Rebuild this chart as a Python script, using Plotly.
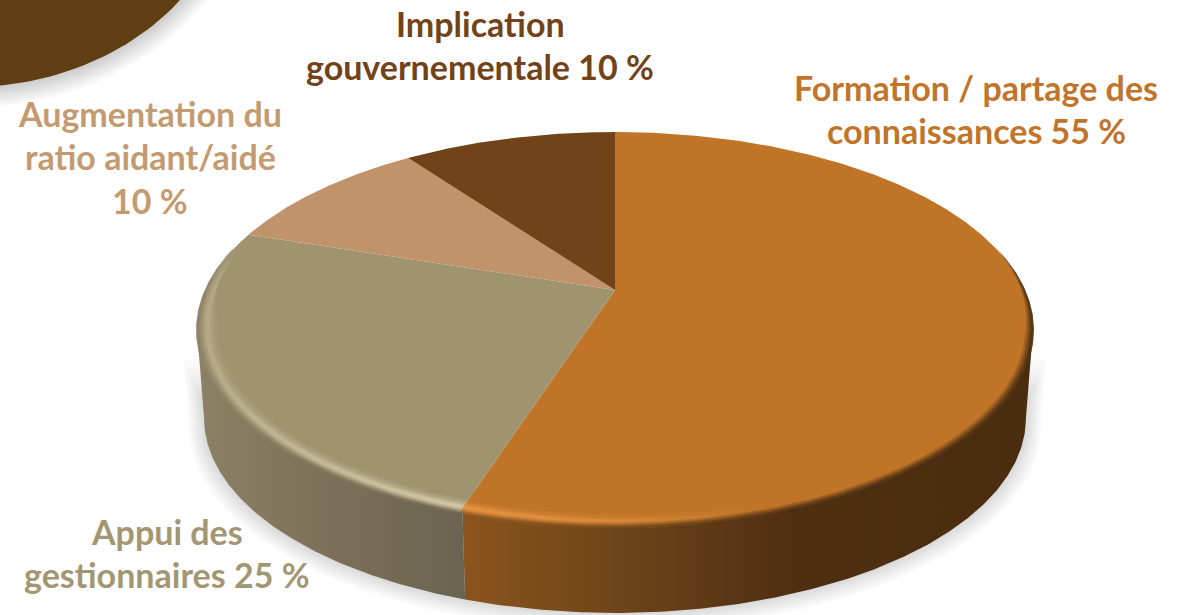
import numpy as np
import plotly.graph_objects as go

# Survey shares, listed clockwise from twelve o'clock
categories = ["Formation / partage des connaissances", "Appui des gestionnaires",
              "Augmentation du ratio aidant/aidé", "Implication gouvernementale"]
values = [55, 25, 10, 10]
top_colors = ["#BF7428", "#A09370", "#C0936B", "#724318"]
text_colors = ["#C0752A", "#A39773", "#C49B70", "#724318"]
label_lines = [
    ["Formation / partage des", "connaissances {v} %"],
    ["Appui des", "gestionnaires {v} %"],
    ["Augmentation du", "ratio aidant/aidé", "{v} %"],
    ["Implication", "gouvernementale {v} %"],
]
label_x = [976, 167, 150, 480]
label_y = [[87, 130], [531, 574], [113, 156, 200], [23, 66]]
orange_wall = [(0, "#8B541E"), (0.28, "#6E4418"), (0.58, "#4E2F11"), (1, "#4A2C0F")]
gray_wall = [(0, "#8C8165"), (0.55, "#7A6F56"), (1, "#6A6350")]

W, H = 1189, 615
CX, CY = 615, 290        # where the disc centre lands on the page
A, B, K = 409.4, 189.9, 0.2019   # perspective projection of the unit disc
DEPTH, TAPER = 89, 0.983  # thickness of the disc and shrink of its lower face


def project(theta, r=1.0, lower=False):
    """Angle in degrees clockwise from the top, radius r, upper or lower face."""
    t = np.radians(theta)
    X, Y = r * np.sin(t), r * np.cos(t)
    d = 1 + K * Y
    s = TAPER if lower else 1.0
    x = CX + A * X / d * s
    y = CY + (DEPTH if lower else 0) - B * Y / d * s
    return x, y


def angles(t0, t1):
    return np.linspace(t0, t1, max(2, int(abs(t1 - t0)) * 2 + 1))


def arc(t0, t1, r=1.0, lower=False):
    return project(angles(t0, t1), r, lower)


def poly(x, y, **kw):
    return go.Scatter(x=np.round(x, 2), y=np.round(y, 2), mode="lines", fill="toself",
                      line=dict(width=0), hoverinfo="skip", showlegend=False, **kw)


def rgba(color, alpha):
    r, g, b = (int(color[i:i + 2], 16) for i in (1, 3, 5))
    return f"rgba({r},{g},{b},{alpha:.3f})"


def band(t0, t1, r0, r1, stops, alpha=1.0, taper_from=None, taper_span=28):
    """Ring segment on the top face, shaded left to right; it can narrow to nothing at one end."""
    t = angles(t0, t1)
    inner = np.full_like(t, r1, dtype=float)
    if taper_from is not None:
        f = np.clip(np.abs(t - taper_from) / taper_span, 0, 1)
        inner = r0 + (r1 - r0) * f
    x0, y0 = project(t, r0)
    x1, y1 = project(t[::-1], inner[::-1])
    scale = [[p, rgba(c, alpha * f)] for p, c, f in stops]
    return poly(np.r_[x0, x1], np.r_[y0, y1], fillcolor="rgba(0,0,0,0)",
                fillgradient=dict(type="horizontal", colorscale=scale))


def wall(t0, t1, stops):
    xa, ya = arc(t0, t1)
    xb, yb = arc(t1, t0, lower=True)
    return poly(np.r_[xa, xb], np.r_[ya, yb], fillcolor="rgba(0,0,0,0)",
                fillgradient=dict(type="horizontal", colorscale=[list(s) for s in stops]))


fig = go.Figure()

# Decorative disc in the upper-left corner, with its soft shadow
phi = np.linspace(0, 2 * np.pi, 240)
for i in range(8, 0, -1):
    fig.add_trace(poly(-30 + (267 + i * 2.6) * np.cos(phi), -140 + (227 + i * 2.6) * np.sin(phi),
                       fillcolor="rgba(0,0,0,0.022)"))
fig.add_trace(poly(-30 + 267 * np.cos(phi), -140 + 227 * np.sin(phi), fillcolor="#5F3E14"))

# Angles where the silhouette of the disc runs straight down
tangent_r = np.degrees(np.arccos(-K))
tangent_l = 360 - tangent_r

cum = np.cumsum([0] + values) * 3.6
tip = cum[1]
seam = tip - 0.5     # the wall seam sits just inside the wedge boundary of the top face

# Cast shadow under the pie, following the same silhouette
for i in range(9, 0, -1):
    xa, ya = arc(tangent_r, tangent_l, 1 + i * 0.004)
    xb, yb = arc(tangent_l, tangent_r, 1 + i * 0.004, lower=True)
    fig.add_trace(poly(np.r_[xa, xb], np.r_[ya, yb + i * 0.7], fillcolor="rgba(0,0,0,0.017)"))

# Side wall
fig.add_trace(wall(tangent_r, seam, orange_wall))
fig.add_trace(wall(seam, tangent_l, gray_wall))

# Top face: one wedge per category
for v0, v1, color in zip(cum[:-1], cum[1:], top_colors):
    x, y = arc(v0, v1)
    fig.add_trace(poly(np.r_[CX, x], np.r_[CY, y], fillcolor=color))

# The outer edge of the top face rolls over into the wall
orange_edge = [(p, c, 1) for p, c in orange_wall]
gray_edge = [(p, c, 1) for p, c in gray_wall]
for r_in, alpha in [(0.982, 0.3), (0.988, 0.45), (0.994, 0.7)]:
    fig.add_trace(band(76, seam, 1.002, r_in, orange_edge, alpha, taper_from=76))
    fig.add_trace(band(seam, 284, 1.002, r_in, gray_edge, alpha, taper_from=284))

# Bevel highlight along the front rim, brightest towards the seam
gray_light = [(0, "#D6CCAA", 0.35), (0.3, "#D6CCAA", 0.65), (1, "#DDD3B2", 1)]
orange_light = [(0, "#F09B46", 1), (0.3, "#F09B46", 0.5), (0.6, "#F09B46", 0), (1, "#F09B46", 0)]
for r0, r1, alpha in [(0.995, 0.952, 0.16), (0.99, 0.96, 0.24), (0.986, 0.966, 0.34), (0.981, 0.971, 0.5)]:
    fig.add_trace(band(tip, 282, r0, r1, gray_light, alpha, taper_from=282, taper_span=22))
    fig.add_trace(band(135, tip, r0, r1, orange_light, alpha))

# Category labels, one annotation per text line
annotations = []
for lines, v, cx, ys, color in zip(label_lines, values, label_x, label_y, text_colors):
    for line, y in zip(lines, ys):
        annotations.append(dict(x=cx, y=y, xref="x", yref="y", text=line.format(v=v), showarrow=False,
                                xanchor="center", yanchor="middle",
                                font=dict(family="Lato", size=34, color=color, weight=700)))

fig.update_layout(
    width=W, height=H, margin=dict(l=0, r=0, t=0, b=0), autosize=False,
    paper_bgcolor="white", plot_bgcolor="white", showlegend=False,
    xaxis=dict(range=[0, W], visible=False, fixedrange=True),
    yaxis=dict(range=[H, 0], visible=False, fixedrange=True),
    annotations=annotations,
)
fig.write_html("out.html", config=dict(displayModeBar=False))
